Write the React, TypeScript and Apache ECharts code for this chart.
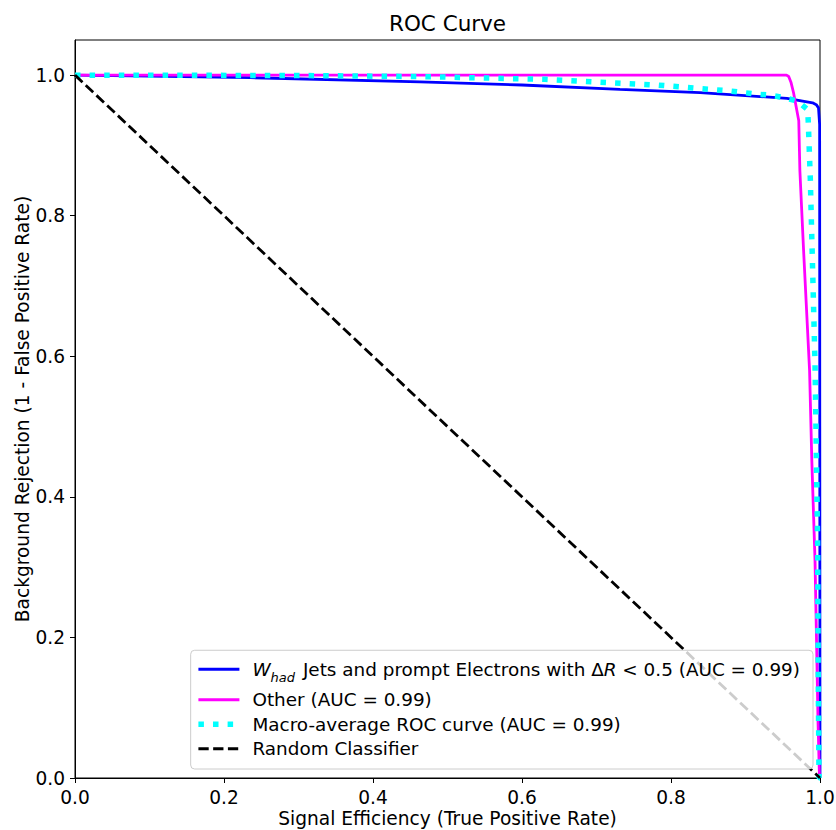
import React, { useEffect, useRef } from "react";
import * as echarts from "echarts";

const xTicks = [0, 0.2, 0.4, 0.6, 0.8, 1.0];
const yTicks = [0, 0.2, 0.4, 0.6, 0.8, 1.0];

const whadCurve: [number, number][] = [
  [0, 1.0], [0.1, 0.9986], [0.235, 0.9964], [0.463, 0.9905], [0.6, 0.986],
  [0.7315, 0.9797], [0.839, 0.975], [0.9557, 0.967], [0.99, 0.9607],
  [0.995, 0.958], [0.998, 0.9535], [0.9995, 0.93], [0.9997, 0.5], [1.0, 0.0],
];

const otherCurve: [number, number][] = [
  [0, 1.0], [0.955, 1.0], [0.958, 0.998], [0.961, 0.99], [0.9645, 0.975],
  [0.968, 0.955], [0.9715, 0.935], [0.973, 0.864], [0.978, 0.75],
  [0.982, 0.665], [0.986, 0.58], [0.989, 0.452], [0.9933, 0.31],
  [0.9956, 0.182], [0.9973, 0.082], [0.9993, 0.0], [1.0, 0.0],
];

const macroCurve: [number, number][] = [
  [0, 1.0], [0.3, 0.9995], [0.463, 0.998], [0.631, 0.994], [0.783, 0.9858],
  [0.877, 0.9777], [0.915, 0.973], [0.933, 0.9716], [0.952, 0.968],
  [0.97, 0.963], [0.9835, 0.951], [0.9843, 0.932], [0.9857, 0.891],
  [0.987, 0.852], [0.9933, 0.59], [0.9969, 0.3286], [0.9976, 0.15],
  [0.9987, 0.0], [1.0, 0.0],
];

const randomLine: [number, number][] = [[0, 1], [1, 0]];

const seriesNames = ["whad", "other", "macro", "random"];
const legendLabels: Record<string, string> = {
  whad: "{i|W}{sub|had}{t| Jets and prompt Electrons with Δ}{i|R}{t| < 0.5 (AUC = 0.99)}",
  other: "{t|Other (AUC = 0.99)}",
  macro: "{t|Macro-average ROC curve (AUC = 0.99)}",
  random: "{t|Random Classifier}",
};

const FONT = "DejaVu Sans";
const FS = 18.6;
const LFS = 18.4;

export default function App() {
  const ref = useRef<HTMLDivElement>(null);
  useEffect(() => {
    if (!ref.current) return;
    const chart = echarts.init(ref.current, null, { renderer: "svg" });
    const axisCommon = {
      type: "value" as const,
      nameLocation: "middle" as const,
      nameMoveOverlap: false,
      nameTextStyle: { fontFamily: FONT, fontSize: FS, color: "#000" },
      axisLine: { show: true, onZero: false, lineStyle: { color: "#000", width: 1 } },
      axisTick: { show: true, inside: false, length: 5, lineStyle: { color: "#000", width: 1 } },
      splitLine: { show: false },
    };
    const lineW = [2.8, 2.8, 5.5, 2.8];
    chart.setOption({
      animation: false,
      backgroundColor: "#fff",
      grid: {
        left: 75, right: 16, top: 40, bottom: 52, show: true,
        borderColor: "#000", borderWidth: 1, backgroundColor: "transparent",
        outerBoundsMode: "none", containLabel: false,
      },
      graphic: [
        {
          type: "text",
          x: 447.5,
          y: 23,
          style: { text: "ROC Curve", fontFamily: FONT, fontSize: 21.5, fill: "#000", textAlign: "center", textVerticalAlign: "middle" },
        },
      ],
      xAxis: {
        ...axisCommon,
        min: 0,
        max: 1,
        interval: 0.2,
        name: "Signal Efficiency (True Positive Rate)",
        nameGap: 31,
        axisTick: { ...axisCommon.axisTick, customValues: xTicks },
        axisLabel: {
          customValues: xTicks,
          formatter: (v: number) => v.toFixed(1),
          fontFamily: FONT, fontSize: FS, color: "#000", margin: 10,
        },
      },
      yAxis: {
        ...axisCommon,
        min: 0,
        max: 1.05,
        name: "Background Rejection (1 - False Positive Rate)",
        nameGap: 43,
        axisTick: { ...axisCommon.axisTick, customValues: yTicks },
        axisLabel: {
          customValues: yTicks,
          formatter: (v: number) => v.toFixed(1),
          fontFamily: FONT, fontSize: FS, color: "#000", margin: 10,
        },
      },
      legend: {
        orient: "vertical",
        right: 23,
        bottom: 61,
        data: seriesNames.map((n, i) => ({ name: n, lineStyle: { width: lineW[i] } })),
        selectedMode: false,
        itemWidth: 41,
        itemHeight: 14,
        itemGap: 6.5,
        padding: [10, 13, 11.25, 5],
        backgroundColor: "rgba(255,255,255,0.8)",
        borderColor: "#cccccc",
        borderWidth: 1,
        borderRadius: 4,
        itemStyle: { opacity: 0 },
        formatter: (name: string) => legendLabels[name],
        textStyle: {
          fontFamily: FONT,
          fontSize: LFS,
          color: "#000",
          padding: [0, 0, 0, 8],
          rich: {
            t: { fontFamily: FONT, fontSize: LFS, color: "#000" },
            i: { fontFamily: FONT, fontSize: LFS, fontStyle: "italic", color: "#000" },
            sub: { fontFamily: FONT, fontSize: 13, fontStyle: "italic", color: "#000", verticalAlign: "bottom", padding: [0, 2, -6, 0] },
          },
        },
      },
      series: [
        {
          name: "whad", type: "line", data: whadCurve, showSymbol: false, symbol: "none",
          lineStyle: { color: "#0000ff", width: 2.8 }, itemStyle: { color: "#0000ff" },
        },
        {
          name: "other", type: "line", data: otherCurve, showSymbol: false, symbol: "none",
          lineStyle: { color: "#ff00ff", width: 2.8 }, itemStyle: { color: "#ff00ff" },
        },
        {
          name: "macro", type: "line", data: macroCurve, showSymbol: false, symbol: "none",
          lineStyle: { color: "#00ffff", width: 5.5, type: [5.5, 9.1], cap: "butt" }, itemStyle: { color: "#00ffff" },
        },
        {
          name: "random", type: "line", data: randomLine, showSymbol: false, symbol: "none",
          lineStyle: { color: "#000000", width: 2.8, type: [10.3, 4.45] }, itemStyle: { color: "#000000" },
        },
      ],
    });
    return () => chart.dispose();
  }, []);
  return <div ref={ref} style={{ position: "absolute", left: 0, top: 0, width: 836, height: 830 }} />;
}
